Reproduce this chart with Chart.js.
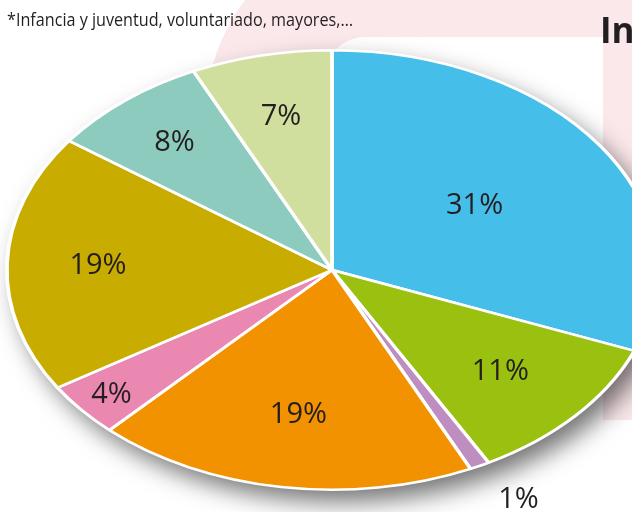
<!DOCTYPE html>
<html>
<head>
<meta charset="utf-8">
<script src="https://cdn.jsdelivr.net/npm/chart.js@4/dist/chart.umd.min.js"></script>
<style>
  html, body { margin: 0; padding: 0; background: #fff; }
  canvas { display: block; }
</style>
</head>
<body>
<canvas id="pie" width="632" height="512"></canvas>
<script>
// Data definitions (clockwise from 12 o'clock)
const shareValues = [31, 11, 1, 19, 4, 19, 8, 7];
const sliceColors = ['#45bfea', '#9ac10f', '#bf8ec1', '#f39200', '#eb88b2', '#c8ac00', '#8dcbbe', '#d1df9e'];
const noteText = '*Infancia y juventud, voluntariado, mayores,\u2026';
const titleText = 'In';

// pie is drawn as an ellipse: horizontal stretch factor
const stretchX = 327 / 221;
// distance of each label from the centre, as part of the radius
const labelFactor = [0.53, 0.69, 1.17, 0.66, 0.88, 0.72, 0.76, 0.72];

const piePlugin = {
  id: 'ellipsePie',
  beforeDraw(chart) {
    const ctx = chart.ctx;
    ctx.save();
    // pink background panel
    ctx.fillStyle = '#fbe8eb';
    ctx.beginPath();
    ctx.roundRect(205, -80, 500, 500, [200, 0, 0, 0]);
    ctx.fill();
    ctx.fillStyle = '#ffffff';
    ctx.beginPath();
    ctx.roundRect(325, 37, 278, 520, [40, 0, 0, 0]);
    ctx.fill();
    // texts
    ctx.fillStyle = '#231f20';
    ctx.textBaseline = 'alphabetic';
    ctx.font = '18px "Open Sans"';
    ctx.fillText(noteText, 7, 26, 346);
    ctx.font = 'bold 35px "Open Sans"';
    ctx.fillText(titleText, 600, 43);
    ctx.restore();
  },
  beforeDatasetsDraw(chart) {
    const ctx = chart.ctx;
    const arc = chart.getDatasetMeta(0).data[0];
    // soft drop shadow under the pie
    ctx.save();
    ctx.shadowColor = 'rgba(0, 0, 0, 0.55)';
    ctx.shadowBlur = 24;
    ctx.shadowOffsetX = 10;
    ctx.shadowOffsetY = 12;
    ctx.fillStyle = '#ffffff';
    ctx.beginPath();
    ctx.ellipse(arc.x, arc.y, arc.outerRadius * stretchX, arc.outerRadius, 0, 0, 2 * Math.PI);
    ctx.fill();
    ctx.restore();
    // stretch horizontally about the centre
    ctx.save();
    ctx.translate(arc.x, 0);
    ctx.scale(stretchX, 1);
    ctx.translate(-arc.x, 0);
  },
  afterDatasetsDraw(chart) {
    const ctx = chart.ctx;
    ctx.restore();
    const arcs = chart.getDatasetMeta(0).data;
    ctx.save();
    ctx.fillStyle = '#231f20';
    ctx.font = '29px "Open Sans"';
    ctx.textAlign = 'center';
    ctx.textBaseline = 'middle';
    arcs.forEach((arc, i) => {
      const mid = (arc.startAngle + arc.endAngle) / 2;
      const r = arc.outerRadius * labelFactor[i];
      // the small slice sits outside, a bit further to the right
      const kx = labelFactor[i] > 1 ? 1.08 : 1;
      const x = arc.x + Math.cos(mid) * r * stretchX * kx;
      const y = arc.y + Math.sin(mid) * r;
      ctx.fillText(shareValues[i] + '%', x, y + 1);
    });
    ctx.restore();
  }
};

const chart = new Chart(document.getElementById('pie').getContext('2d'), {
  type: 'pie',
  data: {
    labels: shareValues.map(v => v + '%'),
    datasets: [{
      data: shareValues,
      backgroundColor: sliceColors,
      borderColor: '#ffffff',
      borderWidth: 2.5,
      clip: false
    }]
  },
  options: {
    responsive: false,
    animation: false,
    events: [],
    layout: {
      padding: { left: 111, right: 79, top: 49, bottom: 21 }
    },
    plugins: {
      legend: { display: false },
      tooltip: { enabled: false }
    }
  },
  plugins: [piePlugin]
});
</script>
</body>
</html>
